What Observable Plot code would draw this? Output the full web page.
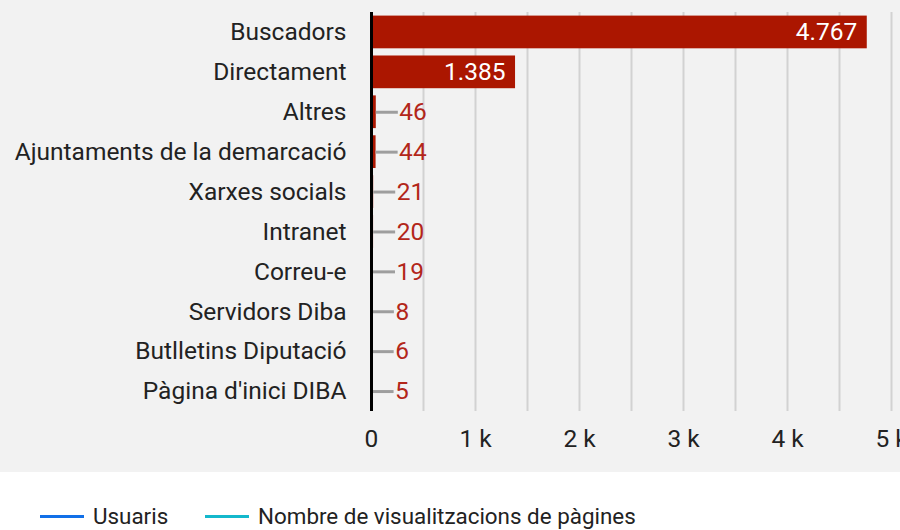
<!DOCTYPE html>
<html>
<head>
<meta charset="utf-8">
<script src="https://cdn.jsdelivr.net/npm/d3@7"></script>
<script src="https://cdn.jsdelivr.net/npm/@observablehq/plot@0.6"></script>
<style>
  html, body { margin: 0; padding: 0; background: #ffffff; }
  body { width: 900px; height: 530px; overflow: hidden; font-family: Roboto, "Noto Sans", sans-serif; }
  #chart { background: #f2f2f2; height: 472px; overflow: hidden; }
  #legend { position: relative; height: 58px; }
  .item { position: absolute; top: 32px; display: flex; align-items: center; font-size: 22.4px; color: #222; line-height: 24px; }
  .swatch { width: 44px; height: 3px; margin-right: 9px; }
</style>
</head>
<body>
<div id="chart"></div>
<div id="legend"></div>
<script>
const categories = ["Buscadors", "Directament", "Altres", "Ajuntaments de la demarcació", "Xarxes socials", "Intranet", "Correu-e", "Servidors Diba", "Butlletins Diputació", "Pàgina d'inici DIBA"];
const values = [4767, 1385, 46, 44, 21, 20, 19, 8, 6, 5];
const xTicks = [0, 1000, 2000, 3000, 4000, 5000];
const gridTicks = [500, 1000, 1500, 2000, 2500, 3000, 3500, 4000, 4500, 5000];
const legendLabels = ["Usuaris", "Nombre de visualitzacions de pàgines"];
const legendColors = ["#1170e8", "#14b8cc"];

const data = categories.map((name, i) => ({name, value: values[i]}));
const fmt = v => v.toString().replace(/\B(?=(\d{3})+(?!\d))/g, ".");
const insideThreshold = 1000;
const leaderLen = 212; // leader length in data units (~22px)

const barColor = "#ab1600";
const labelRed = "#b3261a";
const FS = 24.5;

const chart = Plot.plot({
  width: 900,
  height: 472,
  marginLeft: 371,
  marginRight: 9,
  marginTop: 12,
  marginBottom: 61,
  style: {background: "transparent", fontFamily: "Roboto, sans-serif", fontSize: FS + "px", color: "#222"},
  x: {domain: [0, 5000], ticks: xTicks, tickFormat: d => d === 0 ? "0" : (d / 1000) + " k", tickSize: 0, tickPadding: 18, label: null},
  y: {domain: categories, range: [12, 411], paddingInner: 0.18, paddingOuter: 0.09, round: false, tickSize: 0, tickPadding: 25, label: null},
  marks: [
    Plot.ruleX(gridTicks, {stroke: "#d2d2d2", strokeWidth: 2}),
    Plot.barX(data, {y: "name", x: "value", fill: barColor}),
    Plot.ruleY(data.filter(d => d.value < insideThreshold), {y: "name", x1: "value", x2: d => d.value + leaderLen, stroke: "#9e9e9e", strokeWidth: 3}),
    Plot.ruleX([0], {stroke: "#000", strokeWidth: 3}),
    Plot.text(data.filter(d => d.value >= insideThreshold), {y: "name", x: "value", text: d => fmt(d.value), textAnchor: "end", dx: -10, fill: "#fff", fontSize: FS}),
    Plot.text(data.filter(d => d.value < insideThreshold), {y: "name", x: d => d.value + leaderLen, text: d => fmt(d.value), textAnchor: "start", dx: 1, fill: labelRed, fontSize: FS})
  ]
});
document.getElementById("chart").appendChild(chart);

const legend = document.getElementById("legend");
const lefts = [40, 205];
legendLabels.forEach((lab, i) => {
  const it = document.createElement("div");
  it.className = "item";
  it.style.left = lefts[i] + "px";
  const sw = document.createElement("span");
  sw.className = "swatch";
  sw.style.background = legendColors[i];
  const tx = document.createElement("span");
  tx.textContent = lab;
  it.appendChild(sw);
  it.appendChild(tx);
  legend.appendChild(it);
});
</script>
</body>
</html>
